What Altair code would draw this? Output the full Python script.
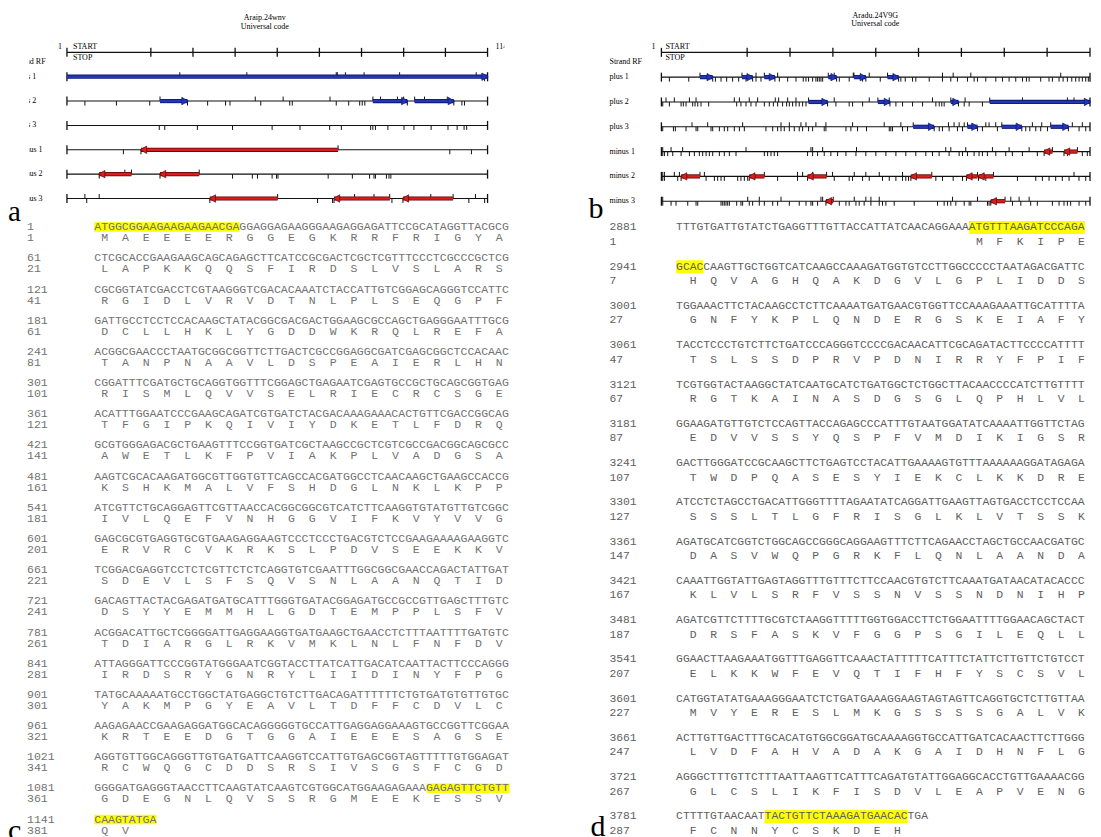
import altair as alt
import pandas as pd

SERIF = "Liberation Serif"
MONO = "Liberation Mono"
BLUE, BLUE_DARK = "#2436b8", "#0c1670"
RED, RED_DARK = "#d81e1e", "#5a0606"
YELLOW = "#ffff00"

# ---------------------------------------------------------------- ORF maps
LANES = ["plus 1", "plus 2", "plus 3", "minus 1", "minus 2", "minus 3"]

A_TITLE = "Araip.24wnv"
A_LEN = 1149
A_RULER = [1, 230, 345, 460, 575, 690, 805, 920, 1034, 1149]
A_ORFS = {
    "plus 1": [(1, 1149)],
    "plus 2": [(255, 330), (836, 930), (950, 1057)],
    "plus 3": [],
    "minus 1": [(203, 741)],
    "minus 2": [(89, 177), (255, 362)],
    "minus 3": [(391, 576), (730, 882), (918, 1055)],
}
A_STARTS = {
    "plus 1": [309, 492, 736, 739, 761, 812, 909, 1118],
    "plus 2": [255, 515, 591, 719, 836, 857, 903, 920, 950, 977, 1039],
    "plus 3": [],
    "minus 1": [741],
    "minus 2": [159, 177, 362],
    "minus 3": [50, 89, 576, 786, 839, 882, 994, 1055, 1116],
}
A_STOPS = {
    "plus 1": [1141, 1149],
    "plus 2": [50, 136, 227, 330, 385, 434, 446, 530, 609, 616, 736, 770, 800, 807, 814, 930, 1057, 1079, 1086],
    "plus 3": [253, 268, 357, 453, 561, 637, 718, 750, 830, 836, 843, 877, 921, 948, 995, 1041, 1066, 1085, 1092],
    "minus 1": [155, 203, 1046, 1105],
    "minus 2": [89, 255, 453, 507, 521, 561, 573, 577, 714, 780, 827, 839, 843, 873, 880, 885],
    "minus 3": [55, 391, 685, 726, 730, 888, 918, 1098, 1141],
}

B_TITLE = "Aradu.24V9G"
B_LEN = 3810
B_RULER = [1, 763, 1144, 1525, 1906, 2286, 2667, 3048, 3429, 3810]
B_ORFS = {
    "plus 1": [(344, 457), (717, 812), (916, 1010), (1484, 1558), (1712, 1818), (2011, 2109)],
    "plus 2": [(1309, 1478), (1925, 2032), (2573, 2641), (2919, 3810)],
    "plus 3": [(2239, 2425), (2721, 2810), (3026, 3204), (3461, 3618)],
    "minus 1": [(3402, 3476), (3579, 3698)],
    "minus 2": [(176, 344), (782, 916), (1300, 1469), (2218, 2404), (2712, 2810), (2819, 2952)],
    "minus 3": [(1463, 1528), (2928, 3055)],
}
B_STARTS = {
    "plus 1": [344, 717, 842, 916, 1034, 1484, 1537, 1706, 1712, 1848, 2011, 2499, 2594, 2751, 3550],
    "plus 2": [42, 116, 250, 309, 649, 694, 782, 856, 1013, 1043, 1123, 1197, 1309, 1537, 1848, 1925,
               2026, 2410, 2573, 2700, 2919, 3210, 3609, 3668],
    "plus 3": [273, 412, 723, 1064, 1138, 1241, 1286, 1374, 1463, 1700, 1981, 2129, 2239, 2552, 2602,
               2647, 2692, 2721, 2884, 2913, 2972, 3026, 3298, 3381, 3461, 3653, 3742],
    "minus 1": [13, 87, 190, 753, 1330, 1345, 1434, 1735, 2528, 2573, 2706, 2943, 3091, 3269, 3476, 3698],
    "minus 2": [13, 28, 116, 161, 344, 383, 916, 1211, 1256, 1345, 1469, 1522, 1715, 1818, 1937, 2144,
                2404, 2810, 2952, 3668],
    "minus 3": [13, 768, 871, 1064, 1419, 1434, 1528, 1715, 1818, 1863, 1937, 2588, 2810, 3055, 3106,
                3180, 3269],
}
B_STOPS = {
    "plus 1": [72, 244, 457, 481, 531, 581, 634, 688, 753, 812, 842, 886, 1010, 1049, 1123, 1197, 1262,
               1286, 1309, 1345, 1374, 1389, 1404, 1419, 1434, 1558, 1582, 1670, 1789, 1818, 1946, 2109,
               2129, 2168, 2233, 2262, 2381, 2499, 2573, 2632, 2721, 2780, 2810, 2884, 2973, 3032, 3091,
               3150, 3210, 3245, 3269, 3372, 3446, 3476, 3535, 3571, 3609, 3648, 3683, 3713, 3742, 3772, 3795],
    "plus 2": [13, 72, 176, 196, 220, 279, 300, 324, 353, 421, 670, 708, 753, 797, 842, 916, 960, 996,
               1034, 1078, 1114, 1138, 1167, 1197, 1226, 1256, 1286, 1478, 1552, 1670, 1700, 1789, 2032,
               2085, 2144, 2233, 2322, 2440, 2470, 2493, 2514, 2641, 2692, 2736, 2854],
    "plus 3": [13, 108, 125, 220, 309, 324, 442, 457, 516, 560, 590, 649, 694, 738, 930, 990, 1034, 1064,
               1093, 1138, 1182, 1226, 1256, 1309, 1345, 1448, 1463, 1641, 1685, 1744, 1824, 2026, 2040,
               2055, 2144, 2188, 2425, 2470, 2499, 2558, 2632, 2677, 2810, 2854, 2987, 3204, 3239, 3275,
               3328, 3372, 3432, 3618, 3713, 3772],
    "minus 1": [13, 28, 57, 102, 176, 250, 294, 338, 368, 398, 427, 457, 516, 560, 605, 664, 916, 945,
                975, 1004, 1034, 1300, 1345, 1389, 1448, 1507, 1567, 1641, 1730, 1818, 1907, 1996, 2085,
                2173, 2262, 2351, 2410, 2469, 2558, 2647, 2677, 2721, 2780, 2824, 2854, 2898, 2973, 3061,
                3120, 3209, 3342, 3402, 3579, 3609, 3742, 3786],
    "minus 2": [13, 28, 146, 176, 398, 472, 501, 531, 560, 679, 708, 738, 768, 782, 1034, 1211, 1300,
                1537, 1670, 1700, 1789, 1848, 1966, 2026, 2085, 2144, 2173, 2197, 2218, 2440, 2499, 2594,
                2677, 2712, 2819, 2884, 3165, 3328, 3387, 3446, 3505, 3564, 3624, 3712, 3772],
    "minus 3": [13, 87, 131, 235, 309, 324, 531, 546, 560, 575, 590, 605, 670, 708, 723, 782, 812, 871,
                916, 990, 1034, 1138, 1226, 1286, 1330, 1345, 1389, 1463, 1582, 1641, 1670, 1730, 1759,
                1803, 1863, 1937, 1966, 1996, 2070, 2248, 2455, 2514, 2544, 2573, 2618, 2692, 2736, 2751,
                2899, 2913, 2928, 3121, 3195, 3283, 3342, 3476, 3535, 3579, 3609, 3638, 3713, 3772],
}

# ---------------------------------------------------------------- sequences
C_FIRST_NT = 1
C_FIRST_CODON_COL = 0
C_NT = [
    "ATGGCGGAAGAAGAAGAACGAGGAGGAGAAGGGAAGAGGAGATTCCGCATAGGTTACGCG",
    "CTCGCACCGAAGAAGCAGCAGAGCTTCATCCGCGACTCGCTCGTTTCCCTCGCCCGCTCG",
    "CGCGGTATCGACCTCGTAAGGGTCGACACAAATCTACCATTGTCGGAGCAGGGTCCATTC",
    "GATTGCCTCCTCCACAAGCTATACGGCGACGACTGGAAGCGCCAGCTGAGGGAATTTGCG",
    "ACGGCGAACCCTAATGCGGCGGTTCTTGACTCGCCGGAGGCGATCGAGCGGCTCCACAAC",
    "CGGATTTCGATGCTGCAGGTGGTTTCGGAGCTGAGAATCGAGTGCCGCTGCAGCGGTGAG",
    "ACATTTGGAATCCCGAAGCAGATCGTGATCTACGACAAAGAAACACTGTTCGACCGGCAG",
    "GCGTGGGAGACGCTGAAGTTTCCGGTGATCGCTAAGCCGCTCGTCGCCGACGGCAGCGCC",
    "AAGTCGCACAAGATGGCGTTGGTGTTCAGCCACGATGGCCTCAACAAGCTGAAGCCACCG",
    "ATCGTTCTGCAGGAGTTCGTTAACCACGGCGGCGTCATCTTCAAGGTGTATGTTGTCGGC",
    "GAGCGCGTGAGGTGCGTGAAGAGGAAGTCCCTCCCTGACGTCTCCGAAGAAAAGAAGGTC",
    "TCGGACGAGGTCCTCTCGTTCTCTCAGGTGTCGAATTTGGCGGCGAACCAGACTATTGAT",
    "GACAGTTACTACGAGATGATGCATTTGGGTGATACGGAGATGCCGCCGTTGAGCTTTGTC",
    "ACGGACATTGCTCGGGGATTGAGGAAGGTGATGAAGCTGAACCTCTTTAATTTTGATGTC",
    "ATTAGGGATTCCCGGTATGGGAATCGGTACCTTATCATTGACATCAATTACTTCCCAGGG",
    "TATGCAAAAATGCCTGGCTATGAGGCTGTCTTGACAGATTTTTTCTGTGATGTGTTGTGC",
    "AAGAGAACCGAAGAGGATGGCACAGGGGGTGCCATTGAGGAGGAAAGTGCCGGTTCGGAA",
    "AGGTGTTGGCAGGGTTGTGATGATTCAAGGTCCATTGTGAGCGGTAGTTTTTGTGGAGAT",
    "GGGGATGAGGGTAACCTTCAAGTATCAAGTCGTGGCATGGAAGAGAAAGAGAGTTCTGTT",
    "CAAGTATGA",
]
C_AA = [
    "MAEEEERGGEGKRRFRIGYA", "LAPKKQQSFIRDSLVSLARS", "RGIDLVRVDTNLPLSEQGPF",
    "DCLLHKLYGDDWKRQLREFA", "TANPNAAVLDSPEAIERLHN", "RISMLQVVSELRIECRCSGE",
    "TFGIPKQIVIYDKETLFDRQ", "AWETLKFPVIAKPLVADGSA", "KSHKMALVFSHDGLNKLKPP",
    "IVLQEFVNHGGVIFKVYVVG", "ERVRCVKRKSLPDVSEEKKV", "SDEVLSFSQVSNLAANQTID",
    "DSYYEMMHLGDTEMPPLSFV", "TDIARGLRKVMKLNLFNFDV", "IRDSRYGNRYLIIDINYFPG",
    "YAKMPGYEAVLTDFFCDVLC", "KRTEEDGTGGAIEEESAGSE", "RCWQGCDDSRSIVSGSFCGD",
    "GDEGNLQVSSRGMEEKESSV", "QV",
]
C_HIGHLIGHT = [(0, 0, 20), (18, 48, 59), (19, 0, 8)]  # (row, first col, last col)

D_FIRST_NT = 2881
D_FIRST_CODON_COL = 43
D_NT = [
    "TTTGTGATTGTATCTGAGGTTTGTTACCATTATCAACAGGAAAATGTTTAAGATCCCAGA",
    "GCACCAAGTTGCTGGTCATCAAGCCAAAGATGGTGTCCTTGGCCCCCTAATAGACGATTC",
    "TGGAAACTTCTACAAGCCTCTTCAAAATGATGAACGTGGTTCCAAAGAAATTGCATTTTA",
    "TACCTCCCTGTCTTCTGATCCCAGGGTCCCCGACAACATTCGCAGATACTTCCCCATTTT",
    "TCGTGGTACTAAGGCTATCAATGCATCTGATGGCTCTGGCTTACAACCCCATCTTGTTTT",
    "GGAAGATGTTGTCTCCAGTTACCAGAGCCCATTTGTAATGGATATCAAAATTGGTTCTAG",
    "GACTTGGGATCCGCAAGCTTCTGAGTCCTACATTGAAAAGTGTTTAAAAAAGGATAGAGA",
    "ATCCTCTAGCCTGACATTGGGTTTTAGAATATCAGGATTGAAGTTAGTGACCTCCTCCAA",
    "AGATGCATCGGTCTGGCAGCCGGGCAGGAAGTTTCTTCAGAACCTAGCTGCCAACGATGC",
    "CAAATTGGTATTGAGTAGGTTTGTTTCTTCCAACGTGTCTTCAAATGATAACATACACCC",
    "AGATCGTTCTTTTGCGTCTAAGGTTTTTGGTGGACCTTCTGGAATTTTGGAACAGCTACT",
    "GGAACTTAAGAAATGGTTTGAGGTTCAAACTATTTTTCATTTCTATTCTTGTTCTGTCCT",
    "CATGGTATATGAAAGGGAATCTCTGATGAAAGGAAGTAGTAGTTCAGGTGCTCTTGTTAA",
    "ACTTGTTGACTTTGCACATGTGGCGGATGCAAAAGGTGCCATTGATCACAACTTCTTGGG",
    "AGGGCTTTGTTCTTTAATTAAGTTCATTTCAGATGTATTGGAGGCACCTGTTGAAAACGG",
    "CTTTTGTAACAATTACTGTTCTAAAGATGAACACTGA",
]
D_AA = [
    "MFKIPE", "HQVAGHQAKDGVLGPLIDDS", "GNFYKPLQNDERGSKEIAFY", "TSLSSDPRVPDNIRRYFPIF",
    "RGTKAINASDGSGLQPHLVL", "EDVVSSYQSPFVMDIKIGSR", "TWDPQASESYIEKCLKKDRE",
    "SSSLTLGFRISGLKLVTSSK", "DASVWQPGRKFLQNLAANDA", "KLVLSRFVSSNVSSNDNIHP",
    "DRSFASKVFGGPSGILEQLL", "ELKKWFEVQTIFHFYSCSVL", "MVYERESLMKGSSSSGALVK",
    "LVDFAHVADAKGAIDHNFLG", "GLCSLIKFISDVLEAPVENG", "FCNNYCSKDEH",
]
D_HIGHLIGHT = [(0, 43, 59), (1, 0, 3), (15, 13, 33)]


# ---------------------------------------------------------------- helpers
def text_at(text, x, y, size=8, align="left", baseline="middle", font=SERIF,
            color="#000000", clip=False):
    return alt.Chart(pd.DataFrame({"t": [text]})).mark_text(
        align=align, baseline=baseline, font=font, fontSize=size, color=color, clip=clip
    ).encode(x=alt.value(x), y=alt.value(y), text="t:N")


def orf_map(title, length, ruler, orfs, starts, stops, g):
    xs = alt.Scale(domain=[1, length], range=g["xr"], zero=False, nice=False)
    ys = alt.Scale(domain=[-1, 5], range=g["yr"], zero=False, nice=False)

    def X(f):
        return alt.X(f + ":Q", scale=xs, axis=None)

    def Y(f):
        return alt.Y(f + ":Q", scale=ys, axis=None)

    lines = pd.DataFrame({"lane": list(range(-1, 6)), "a": 1, "b": length})
    caps = pd.DataFrame([{"lane": i, "pos": p} for i in range(6) for p in (1, length)] +
                        [{"lane": -1, "pos": p} for p in ruler])
    st = pd.DataFrame([{"lane": i, "pos": p} for i, n in enumerate(LANES) for p in starts[n]])
    sp = pd.DataFrame([{"lane": i, "pos": p} for i, n in enumerate(LANES) for p in stops[n]])
    lanes_df = pd.DataFrame({"lane": list(range(6)), "name": LANES})
    ink = "#111111"

    layers = [
        alt.Chart(lines).mark_rule(color=ink, strokeWidth=1.1).encode(x=X("a"), x2="b", y=Y("lane")),
        alt.Chart(caps).mark_rule(color=ink, strokeWidth=1.3, yOffset=-4.5, y2Offset=4.5).encode(
            x=X("pos"), y=Y("lane"), y2="lane"),
        alt.Chart(st).mark_rule(color=ink, strokeWidth=1, yOffset=-4.5, y2Offset=0).encode(
            x=X("pos"), y=Y("lane"), y2="lane"),
        alt.Chart(sp).mark_rule(color=ink, strokeWidth=1, yOffset=0, y2Offset=4.5).encode(
            x=X("pos"), y=Y("lane"), y2="lane"),
    ]
    for strand, col, dark, shape, head, dx in (
        ("plus", BLUE, BLUE_DARK, "triangle-right", "right", -2.5),
        ("minus", RED, RED_DARK, "triangle-left", "left", 2.5),
    ):
        rows = [{"lane": i, "left": a, "right": b} for i, n in enumerate(LANES)
                if n.startswith(strand) for a, b in orfs[n]]
        if not rows:
            continue
        df = pd.DataFrame(rows)
        layers += [
            alt.Chart(df).mark_rule(color=dark, strokeWidth=4.2).encode(x=X("left"), x2="right", y=Y("lane")),
            alt.Chart(df).mark_rule(color=col, strokeWidth=2.6).encode(x=X("left"), x2="right", y=Y("lane")),
            alt.Chart(df).mark_point(shape=shape, filled=True, fill=col, stroke=dark, strokeWidth=0.7,
                                     opacity=1, size=55, xOffset=dx).encode(x=X(head), y=Y("lane")),
        ]
    layers += [
        text_at(title, g["tx"], g["ty"], size=8, align="center"),
        text_at("Universal code", g["tx"], g["ty2"], size=8, align="center"),
        text_at("1", g["one_x"], g["top_y"], align="right"),
        text_at("START", g["ss_x"], g["top_y"]),
        text_at("STOP", g["ss_x"], g["stop_y"]),
        text_at("Strand RF", g["srf_x"], g["srf_y"], clip=True),
        alt.Chart(lanes_df).mark_text(align="left", baseline="middle", font=SERIF, fontSize=8,
                                      color="#000000", clip=True).encode(
            x=alt.value(g["lab_x"]), y=Y("lane"), text="name:N"),
    ]
    if g.get("end_x") is not None:
        layers.append(text_at(str(length), g["end_x"], g["top_y"], clip=True))
    return alt.layer(*layers)


def seq_panel(nt_rows, aa_rows, first_nt, first_col, highlight, g):
    rows, aa_pts = [], []
    off, aa_no = first_col, 1
    for r, (nt, aa) in enumerate(zip(nt_rows, aa_rows)):
        rows.append({"row": r, "nt": nt, "ntn": str(first_nt + 60 * r), "aan": str(aa_no), "c0": 0})
        for j, a in enumerate(aa):
            aa_pts.append({"row": r, "col": off + 3 * j + 1.5, "aa": a})
        aa_no += len(aa)
        off = off + 3 * len(aa) - 60
    rows = pd.DataFrame(rows)
    aa_pts = pd.DataFrame(aa_pts)
    hl = pd.DataFrame([{"row": r, "c1": a, "c2": b + 1} for r, a, b in highlight])

    n = len(nt_rows)
    xs = alt.Scale(domain=[0, 60], range=[g["x0"], g["x0"] + 60 * g["cw"]], zero=False, nice=False)
    ys = alt.Scale(domain=[0, n - 1], range=[g["y0"], g["y1"]], zero=False, nice=False)
    X = lambda f: alt.X(f + ":Q", scale=xs, axis=None)
    Y = alt.Y("row:Q", scale=ys, axis=None)
    fs = g["cw"] / 0.6
    txt = dict(font=MONO, fontSize=fs, color=g["ink"], baseline="middle")

    layers = [
        alt.Chart(hl).mark_rect(color=YELLOW, yOffset=g["hl_top"], y2Offset=g["hl_bot"]).encode(
            x=X("c1"), x2="c2", y=Y, y2="row"),
        alt.Chart(rows).mark_text(align="left", **txt).encode(x=X("c0"), y=Y, text="nt:N"),
        alt.Chart(aa_pts).mark_text(align="center", yOffset=g["aa_dy"], **txt).encode(
            x=X("col"), y=Y, text="aa:N"),
        alt.Chart(rows).mark_text(align="left", **txt).encode(x=alt.value(g["num_x"]), y=Y, text="ntn:N"),
        alt.Chart(rows).mark_text(align="left", yOffset=g["aa_dy"], **txt).encode(
            x=alt.value(g["num_x"]), y=Y, text="aan:N"),
    ]
    return alt.layer(*layers)


# ---------------------------------------------------------------- layout
# page columns: spacer 8..29, left 29..505, right 505..1093 ; rows share one group
H = 821

map_a = orf_map(A_TITLE, A_LEN, A_RULER, A_ORFS, A_STARTS, A_STOPS, dict(
    xr=[38, 459], yr=[44, 190.3], tx=236, ty=10, ty2=19,
    one_x=33, ss_x=44, top_y=39, stop_y=50, srf_x=-16, srf_y=54, lab_x=-12, end_x=467))

seq_c = seq_panel(C_NT, C_AA, C_FIRST_NT, C_FIRST_CODON_COL, C_HIGHLIGHT, dict(
    x0=65.3, cw=6.93, y0=219.0, y1=812.0, aa_dy=11, num_x=-2,
    hl_top=-5, hl_bot=4.5, ink="#727272"))

map_b = orf_map(B_TITLE, B_LEN, B_RULER, B_ORFS, B_STARTS, B_STOPS, dict(
    xr=[157, 586], yr=[44, 193], tx=371, ty=8, ty2=16,
    one_x=151, ss_x=161, top_y=39, stop_y=50, srf_x=105, srf_y=54, lab_x=105, end_x=None))

seq_d = seq_panel(D_NT, D_AA, D_FIRST_NT, D_FIRST_CODON_COL, D_HIGHLIGHT, dict(
    x0=171.7, cw=6.82, y0=219.3, y1=808.8, aa_dy=14.5, num_x=105,
    hl_top=-6.5, hl_bot=6.5, ink="#5e5e5e"))

spacer = alt.layer(
    text_at("a", 0, 213, size=29, baseline="alphabetic"),
    text_at("c", 0, 832, size=30, baseline="alphabetic"),
).properties(width=21, height=H)

left = alt.layer(map_a, seq_c).resolve_scale(x="independent", y="independent").properties(width=476, height=H)
right = alt.layer(
    map_b, seq_d,
    text_at("b", 84, 210, size=30, baseline="alphabetic"),
    text_at("d", 86, 828, size=30, baseline="alphabetic"),
).resolve_scale(x="independent", y="independent").properties(width=588, height=H)

chart = alt.hconcat(spacer, left, right, spacing=0, bounds="flush").properties(
    padding=0).configure_view(stroke=None)

chart.save("out.html", embed_options={"renderer": "svg", "actions": False})
